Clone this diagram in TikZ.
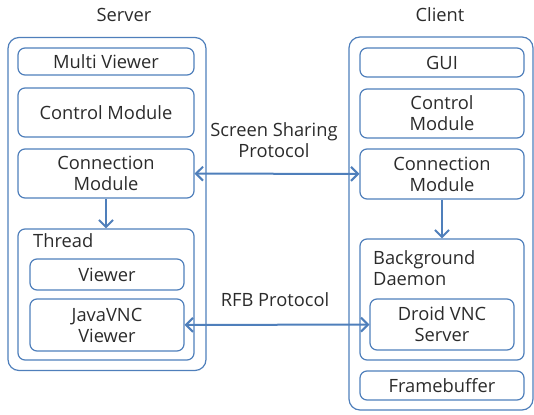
\documentclass[tikz,border=0pt]{standalone}
\usepackage{fontspec}
\setmainfont{Open Sans}
\usepackage{xcolor}
\usetikzlibrary{arrows.meta, positioning}
\definecolor{boxblue}{HTML}{4F7FBB}
\definecolor{txtgray}{HTML}{2B2B2B}

\begin{document}
\begin{tikzpicture}[x=1pt, y=-1pt,
  every node/.style={font=\fontsize{18.3}{21}\selectfont, text=txtgray},
  box/.style={draw=boxblue, line width=1.2pt, rounded corners=7pt, align=center, inner sep=0pt},
  frame/.style={draw=boxblue, line width=1.2pt, rounded corners=11pt, inner sep=0pt},
  link/.style={draw=boxblue, line width=2pt, -{Straight Barb[length=7pt, width=14pt]}},
  both/.style={link, {Straight Barb[length=7pt, width=14pt]}-{Straight Barb[length=7pt, width=14pt]}}]
\useasboundingbox (0,0) rectangle (534,414);
% Server side
\node (srvtitle) at (124,15) {Server};
\node[frame, minimum width=198pt, minimum height=333pt] (server) at (107,204) {};
\node[box, minimum width=176pt, minimum height=27pt] (multiview) at (106,61.5) {Multi Viewer};
\node[box, minimum width=176pt, minimum height=49pt] (srvctrl) at (106,112.5) {Control Module};
\node[box, minimum width=176pt, minimum height=49pt] (srvconn) at (106,173.5) {Connection\\Module};
\node[box, minimum width=176pt, minimum height=131pt] (thread) at (106,294.5) {};
\node[anchor=west, inner sep=0pt] (threadlbl) at (33,241) {Thread};
\node[box, minimum width=154pt, minimum height=31pt] (viewer) at (107,274.5) {Viewer};
\node[box, minimum width=154pt, minimum height=52pt] (javavnc) at (107,325) {JavaVNC\\Viewer};
% Client side
\node (clititle) at (440,15) {Client};
\node[frame, minimum width=184pt, minimum height=373pt] (client) at (441,223.5) {};
\node[box, minimum width=164pt, minimum height=29pt] (gui) at (442,62.5) {GUI};
\node[box, minimum width=164pt, minimum height=49pt] (clictrl) at (442,113.5) {Control\\Module};
\node[box, minimum width=164pt, minimum height=50pt] (cliconn) at (442,174) {Connection\\Module};
\node[box, minimum width=164pt, minimum height=121pt] (daemon) at (442,299.5) {};
\node[anchor=north west, align=left, inner sep=0pt] (daemonlbl) at (373,250) {Background\\Daemon};
\node[box, minimum width=144pt, minimum height=51pt] (droid) at (442,324.5) {Droid VNC\\Server};
\node[box, minimum width=164pt, minimum height=29pt] (fb) at (442,385.5) {Framebuffer};
% Protocols
\node[align=center] (sslbl) at (274,140) {Screen Sharing\\Protocol};
\node (rfblbl) at (275,300) {RFB Protocol};
\draw[both] (srvconn) -- (cliconn);
\draw[both] (javavnc) -- (droid);
\draw[link] (srvconn) -- (thread);
\draw[link] (cliconn) -- (daemon);
\end{tikzpicture}
\end{document}
